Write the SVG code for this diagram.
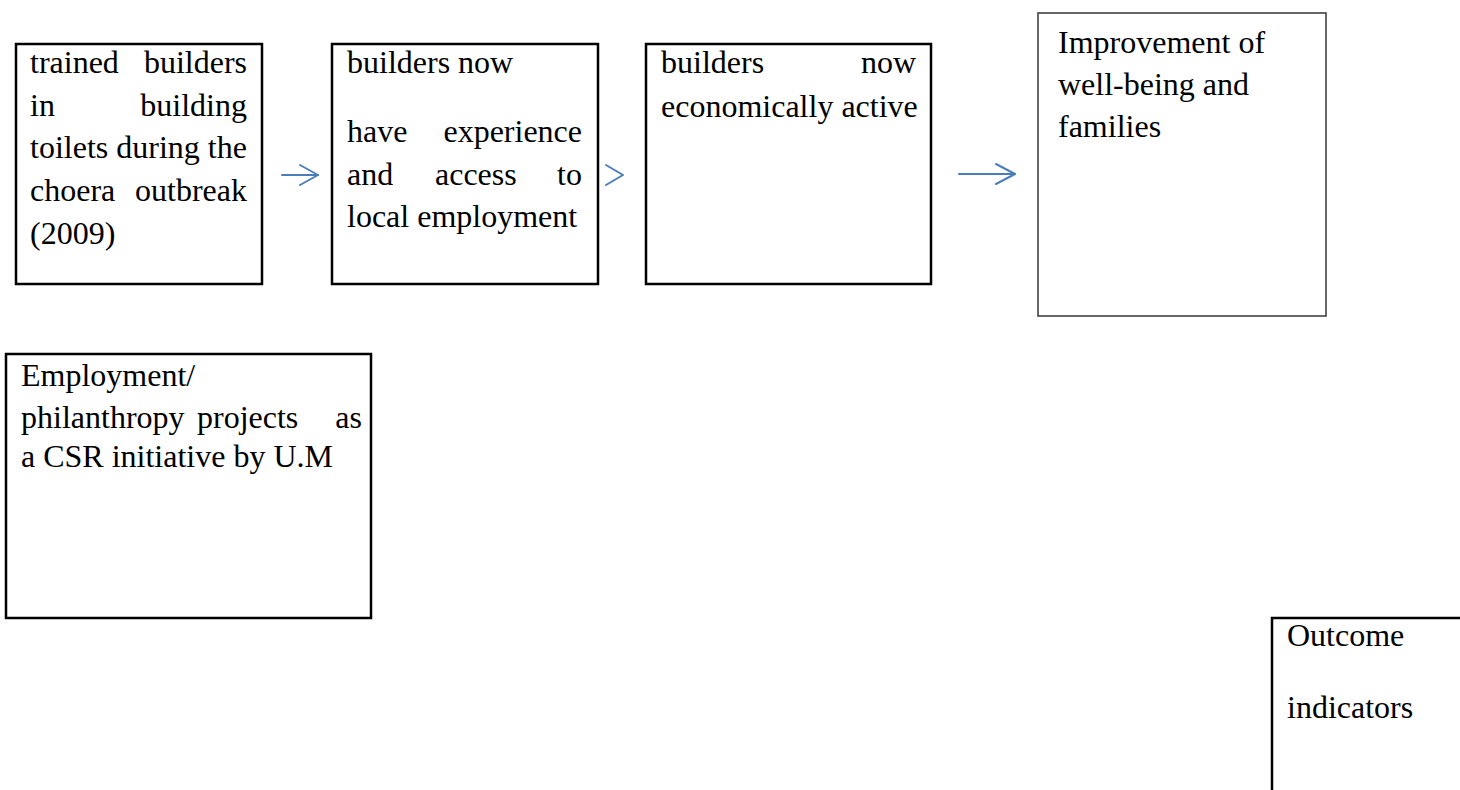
<svg xmlns="http://www.w3.org/2000/svg" width="1460" height="790" viewBox="0 0 1460 790">
  <style>
    .box { fill: #ffffff; stroke: #000000; stroke-width: 2.5; }
    .box-thin { fill: #ffffff; stroke: #404040; stroke-width: 1.6; }
    text { font-family: "Liberation Serif", "Times New Roman", serif; font-size: 32px; fill: #000000; }
    .end { text-anchor: end; }
    .conn { fill: none; stroke: #4a7ebb; stroke-width: 2; stroke-linecap: round; stroke-linejoin: round; }
  </style>
  <rect width="1460" height="790" fill="#ffffff"/>

  <g id="connectors">
    <line class="conn" x1="282" y1="175" x2="318" y2="175"/>
    <polyline class="conn" points="300,165 318,175 300,185"/>
    <polyline class="conn" points="606,165 623,175 606,185"/>
    <line class="conn" x1="959" y1="174" x2="1015" y2="174"/>
    <polyline class="conn" points="996,164 1015,174 996,184"/>
  </g>

  <g id="node-trained">
    <rect class="box" x="16" y="44" width="246" height="240"/>
    <text x="30" y="73">trained</text>
    <text class="end" x="247" y="73">builders</text>
    <text x="30" y="116">in</text>
    <text class="end" x="247" y="116">building</text>
    <text x="30" y="158">toilets during the</text>
    <text x="30" y="201">choera</text>
    <text class="end" x="247" y="201">outbreak</text>
    <text x="30" y="244">(2009)</text>
  </g>

  <g id="node-experience">
    <rect class="box" x="332" y="44" width="266" height="240"/>
    <text x="347" y="73">builders now</text>
    <text x="347" y="142">have</text>
    <text class="end" x="582" y="142">experience</text>
    <text x="347" y="185">and</text>
    <text x="435" y="185">access</text>
    <text class="end" x="582" y="185">to</text>
    <text x="347" y="227">local employment</text>
  </g>

  <g id="node-active">
    <rect class="box" x="646" y="44" width="285" height="240"/>
    <text x="661" y="73">builders</text>
    <text class="end" x="916" y="73">now</text>
    <text x="661" y="117">economically active</text>
  </g>

  <g id="node-wellbeing">
    <rect class="box-thin" x="1038" y="13" width="288" height="303"/>
    <text x="1058" y="53">Improvement of</text>
    <text x="1058" y="95">well-being and</text>
    <text x="1058" y="137">families</text>
  </g>

  <g id="node-csr">
    <rect class="box" x="6" y="354" width="365" height="264"/>
    <text x="21" y="386">Employment/</text>
    <text x="21" y="428">philanthropy</text>
    <text x="197" y="428">projects</text>
    <text class="end" x="362" y="428">as</text>
    <text x="21" y="467">a CSR initiative by U.M</text>
  </g>

  <g id="node-outcome">
    <rect class="box" x="1272" y="618" width="260" height="260"/>
    <text x="1287" y="646">Outcome</text>
    <text x="1287" y="718">indicators</text>
  </g>
</svg>
